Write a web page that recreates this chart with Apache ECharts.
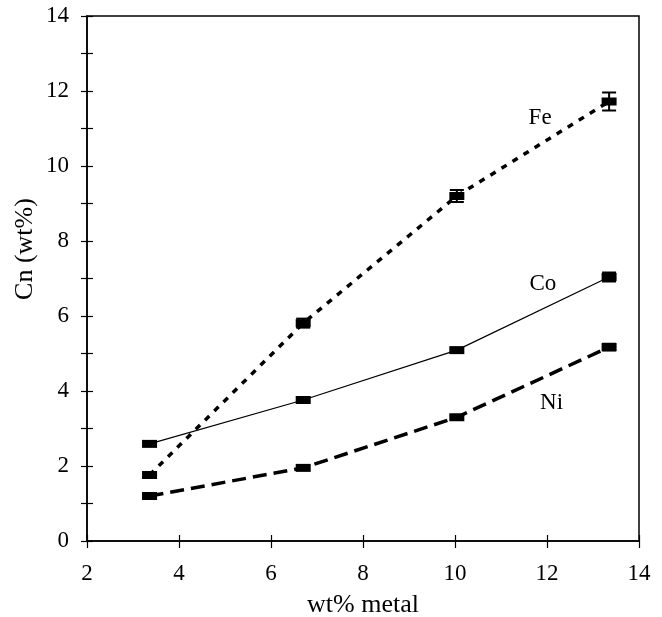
<!DOCTYPE html>
<html>
<head>
<meta charset="utf-8">
<script src="https://cdn.jsdelivr.net/npm/echarts@6/dist/echarts.min.js"></script>
<style>html,body{margin:0;padding:0;background:#fff}#c{width:662px;height:617px}</style>
</head>
<body>
<div id="c"></div>
<script>
var xValues = [3.36, 6.7, 10.04, 13.35];
var feValues = [1.76, 5.81, 9.2, 11.72];
var coValues = [2.59, 3.76, 5.09, 7.04];
var niValues = [1.2, 1.95, 3.3, 5.17];
var feErr = [0.05, 0.12, 0.16, 0.24];
var coErr = [0.04, 0.04, 0.05, 0.12];
var niErr = [0.03, 0.04, 0.04, 0.09];
var seriesLabels = [
  ['Fe', 11.85, 11.28],
  ['Co', 11.91, 6.85],
  ['Ni', 12.1, 3.68]
];
var xTitle = 'wt% metal';
var yTitle = 'Cn (wt%)';

var FONT = 'Liberation Serif';
var chart = echarts.init(document.getElementById('c'), null, {renderer: 'canvas'});

function pts(ys) { return xValues.map(function (x, i) { return [x, ys[i]]; }); }
function errData(ys, es) { return xValues.map(function (x, i) { return [x, ys[i], es[i]]; }); }

function errRender(params, api) {
  var x = api.value(0), y = api.value(1), e = api.value(2);
  var top = api.coord([x, y + e]);
  var bot = api.coord([x, y - e]);
  var hw = 7;
  var st = {stroke: '#000', lineWidth: 2};
  return {
    type: 'group',
    children: [
      {type: 'line', shape: {x1: top[0], y1: top[1], x2: bot[0], y2: bot[1]}, style: st},
      {type: 'line', shape: {x1: top[0] - hw, y1: top[1], x2: top[0] + hw, y2: top[1]}, style: st},
      {type: 'line', shape: {x1: bot[0] - hw, y1: bot[1], x2: bot[0] + hw, y2: bot[1]}, style: st}
    ]
  };
}

function lineSeries(name, ys, ls) {
  return {
    name: name, type: 'line', data: pts(ys),
    symbol: 'rect', symbolSize: [15, 8],
    itemStyle: {color: '#000'},
    lineStyle: ls,
    z: 3, animation: false
  };
}
function errSeries(ys, es) {
  return {type: 'custom', data: errData(ys, es), renderItem: errRender, z: 4, animation: false,
    encode: {x: 0, y: 1}};
}

var option = {
  backgroundColor: '#fff',
  animation: false,
  grid: {left: 87, right: 23, top: 16, bottom: 76, show: true, borderColor: '#000', borderWidth: 1.5,
    containLabel: false, outerBoundsMode: 'none'},
  graphic: [
    {
      type: 'text', x: 25, y: 249, rotation: Math.PI / 2,
      style: {text: yTitle, fontFamily: FONT, fontSize: 26, fill: '#000', align: 'center', verticalAlign: 'middle'}
    }
  ],
  xAxis: [
    {
      type: 'value', min: 2, max: 14, interval: 2,
      name: xTitle, nameLocation: 'middle', nameGap: 51,
      nameTextStyle: {fontFamily: FONT, fontSize: 26, color: '#000'},
      axisLine: {show: true, onZero: false, lineStyle: {color: '#000', width: 1.5}},
      axisTick: {show: true, length: 7, lineStyle: {color: '#000', width: 1.2}},
      axisLabel: {fontFamily: FONT, fontSize: 23, color: '#000', margin: 21},
      splitLine: {show: false}
    },
    {
      type: 'value', min: 2, max: 14, interval: 2, position: 'bottom',
      axisLine: {show: false},
      axisTick: {show: true, inside: true, length: 6, lineStyle: {color: '#000', width: 1.2}},
      axisLabel: {show: false},
      splitLine: {show: false}
    }
  ],
  yAxis: [
    {
      type: 'value', min: 0, max: 14, interval: 2,
      axisLine: {show: true, onZero: false, lineStyle: {color: '#000', width: 1.5}},
      axisTick: {show: true, length: 6, lineStyle: {color: '#000', width: 1.2}},
      minorTick: {show: true, splitNumber: 2, length: 6, lineStyle: {color: '#000', width: 1.2}},
      axisLabel: {fontFamily: FONT, fontSize: 23, color: '#000', margin: 18},
      splitLine: {show: false}
    },
    {
      type: 'value', min: 0, max: 14, interval: 2, position: 'left',
      axisLine: {show: false},
      axisTick: {show: true, inside: true, length: 6, lineStyle: {color: '#000', width: 1.2}},
      minorTick: {show: true, splitNumber: 2, length: 6, lineStyle: {color: '#000', width: 1.2}},
      axisLabel: {show: false},
      splitLine: {show: false}
    }
  ],
  series: [
    lineSeries('Fe', feValues, {color: '#000', width: 3.5, type: [6, 7]}),
    lineSeries('Co', coValues, {color: '#000', width: 1.2, type: 'solid'}),
    lineSeries('Ni', niValues, {color: '#000', width: 3.5, type: [14, 7]}),
    errSeries(feValues, feErr),
    errSeries(coValues, coErr),
    errSeries(niValues, niErr),
    {
      type: 'scatter', symbolSize: 0, animation: false,
      itemStyle: {opacity: 1, color: '#000'},
      data: seriesLabels.map(function (d) { return {name: d[0], value: [d[1], d[2]]}; }),
      label: {show: true, position: 'inside', formatter: '{b}', fontFamily: FONT, fontSize: 23, color: '#000', opacity: 1},
      z: 5
    }
  ]
};
chart.setOption(option);
</script>
</body>
</html>
